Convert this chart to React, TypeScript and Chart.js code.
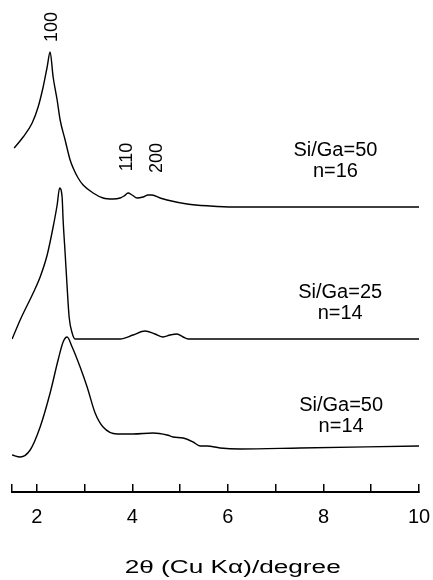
import { useEffect, useRef } from "react";
import { Chart, registerables } from "chart.js";

Chart.register(...registerables);

// x axis (2θ, degrees)
const X_MIN = 1.48;
const X_MAX = 10;
const tickValues = [X_MIN, 2, 3, 4, 5, 6, 7, 8, 9, 10];
const tickLabels = ["", "2", "", "4", "", "6", "", "8", "", "10"];
const xTitle = "2θ (Cu Kα)/degree";

// Si/Ga=50, n=16 (top trace)
const theta50n16 = [1.525, 1.713, 1.902, 2.027, 2.132, 2.216, 2.278, 2.341, 2.425, 2.488, 2.592, 2.697, 2.76, 2.864, 2.969, 3.178, 3.387, 3.596, 3.743, 3.826, 3.91, 3.994, 4.098, 4.223, 4.328, 4.412, 4.579, 4.726, 5.145, 5.626, 6.107, 7.509, 10.0];
const int50n16 = [59, 70, 84, 100, 120, 140, 155, 130, 107, 87, 67, 47, 39, 29, 22, 14, 9, 8, 9, 11, 14, 12, 9, 10, 12, 12, 9, 7, 3, 1, 0, 0, 0];
const offset50n16 = 285;

// Si/Ga=25, n=14 (middle trace)
const theta25n14 = [1.483, 1.651, 1.923, 2.069, 2.216, 2.341, 2.425, 2.477, 2.529, 2.55, 2.592, 2.634, 2.676, 2.739, 2.801, 3.325, 3.743, 4.015, 4.266, 4.475, 4.643, 4.789, 4.936, 5.061, 5.166, 6.463, 10.0];
const int25n14 = [0, 19, 46, 62, 84, 112, 134, 151, 142, 119, 86, 52, 22, 6, 0, 0, 0, 4, 8, 5, 2, 4, 5, 2, 0, 0, 0];
const offset25n14 = 153;

// Si/Ga=50, n=14 (bottom trace)
const theta50n14 = [1.483, 1.651, 1.86, 2.069, 2.278, 2.445, 2.55, 2.634, 2.739, 2.906, 3.053, 3.22, 3.387, 3.68, 4.015, 4.433, 4.726, 4.852, 5.061, 5.27, 5.417, 5.563, 5.835, 6.254, 7.509, 10.0];
const int50n14 = [2, 0, 7, 30, 64, 97, 115, 120, 110, 90, 70, 44, 30, 23, 23, 24, 22, 20, 19, 15, 11, 11, 9, 8, 9, 11];
const offset50n14 = 35;

// reflection labels (rotated)
const peakLabels = ["100", "110", "200"];
const peakLabelX = [2.32, 3.89, 4.52];
const peakLabelY = [465, 335, 334];

// sample labels
const sampleLabels = [
  ["Si/Ga=50", "n=16"],
  ["Si/Ga=25", "n=14"],
  ["Si/Ga=50", "n=14"],
];
const sampleLabelX = [8.25, 8.35, 8.37];
const sampleLabelY = [342, 200, 87];

const FONT = "'Liberation Sans', Arial, Helvetica, sans-serif";

function toPoints(xs: number[], ys: number[], off: number) {
  return xs.map((x, i) => ({ x, y: ys[i] + off }));
}

const labelPlugin = {
  id: "labels",
  afterDraw(chart: any) {
    const { ctx, scales } = chart;
    const xs = scales.x;
    const ys = scales.y;
    ctx.save();
    ctx.fillStyle = "#000";
    ctx.font = `18px ${FONT}`;
    ctx.textAlign = "center";
    ctx.textBaseline = "middle";
    peakLabels.forEach((t, i) => {
      const px = xs.getPixelForValue(peakLabelX[i]);
      const py = ys.getPixelForValue(peakLabelY[i]);
      ctx.save();
      ctx.translate(px, py);
      ctx.rotate(-Math.PI / 2);
      ctx.fillText(t, 0, 0);
      ctx.restore();
    });
    ctx.font = `20px ${FONT}`;
    sampleLabels.forEach((lines, i) => {
      const px = xs.getPixelForValue(sampleLabelX[i]);
      const py = ys.getPixelForValue(sampleLabelY[i]);
      lines.forEach((line, j) => {
        ctx.fillText(line, px, py + j * 21);
      });
    });
    // axis title (wide-set lettering as in the original)
    ctx.font = `18px ${FONT}`;
    const w = ctx.measureText(xTitle).width;
    const targetW = 216;
    const cx = xs.getPixelForValue(6.1);
    const cy = xs.bottom - 12;
    ctx.translate(cx, cy);
    ctx.scale(targetW / w, 1);
    ctx.fillText(xTitle, 0, 0);
    ctx.restore();
  },
};

export default function App() {
  const ref = useRef<HTMLCanvasElement | null>(null);
  useEffect(() => {
    if (!ref.current) return;
    const lineStyle = {
      borderColor: "#000",
      borderWidth: 1.4,
      pointRadius: 0,
      fill: false,
      cubicInterpolationMode: "monotone" as const,
    };
    const chart = new Chart(ref.current, {
      type: "line",
      data: {
        datasets: [
          { label: "Si/Ga=50 n=16", data: toPoints(theta50n16, int50n16, offset50n16), ...lineStyle },
          { label: "Si/Ga=25 n=14", data: toPoints(theta25n14, int25n14, offset25n14), ...lineStyle },
          { label: "Si/Ga=50 n=14", data: toPoints(theta50n14, int50n14, offset50n14), ...lineStyle },
        ],
      },
      options: {
        animation: false,
        responsive: false,
        devicePixelRatio: 1,
        layout: { padding: { left: 12, right: 14, top: 0, bottom: 0 } },
        plugins: { legend: { display: false }, tooltip: { enabled: false } },
        scales: {
          x: {
            type: "linear",
            min: X_MIN,
            max: X_MAX,
            afterBuildTicks: (scale: any) => {
              scale.ticks = tickValues.map((v) => ({ value: v }));
            },
            afterFit: (scale: any) => {
              scale.height = 88;
              scale.paddingLeft = 0;
              scale.paddingRight = 0;
            },
            ticks: {
              autoSkip: false,
              maxRotation: 0,
              color: "#000",
              font: { family: FONT, size: 20 },
              padding: 21,
              callback: (value: any) => {
                const i = tickValues.indexOf(Number(value));
                return i >= 0 ? tickLabels[i] : "";
              },
            },
            grid: {
              drawOnChartArea: false,
              drawTicks: true,
              tickLength: -8,
              color: "#000",
              lineWidth: 1.5,
            },
            border: { display: true, color: "#000", width: 2 },
            title: { display: false, text: xTitle },
          },
          y: {
            type: "linear",
            display: false,
            min: 0,
            max: 492,
          },
        },
      },
      plugins: [labelPlugin],
    });
    return () => chart.destroy();
  }, []);
  return (
    <div style={{ position: "absolute", left: 0, top: 0, width: 433, height: 580, background: "#fff" }}>
      <canvas ref={ref} width={433} height={580} style={{ display: "block" }} />
    </div>
  );
}
